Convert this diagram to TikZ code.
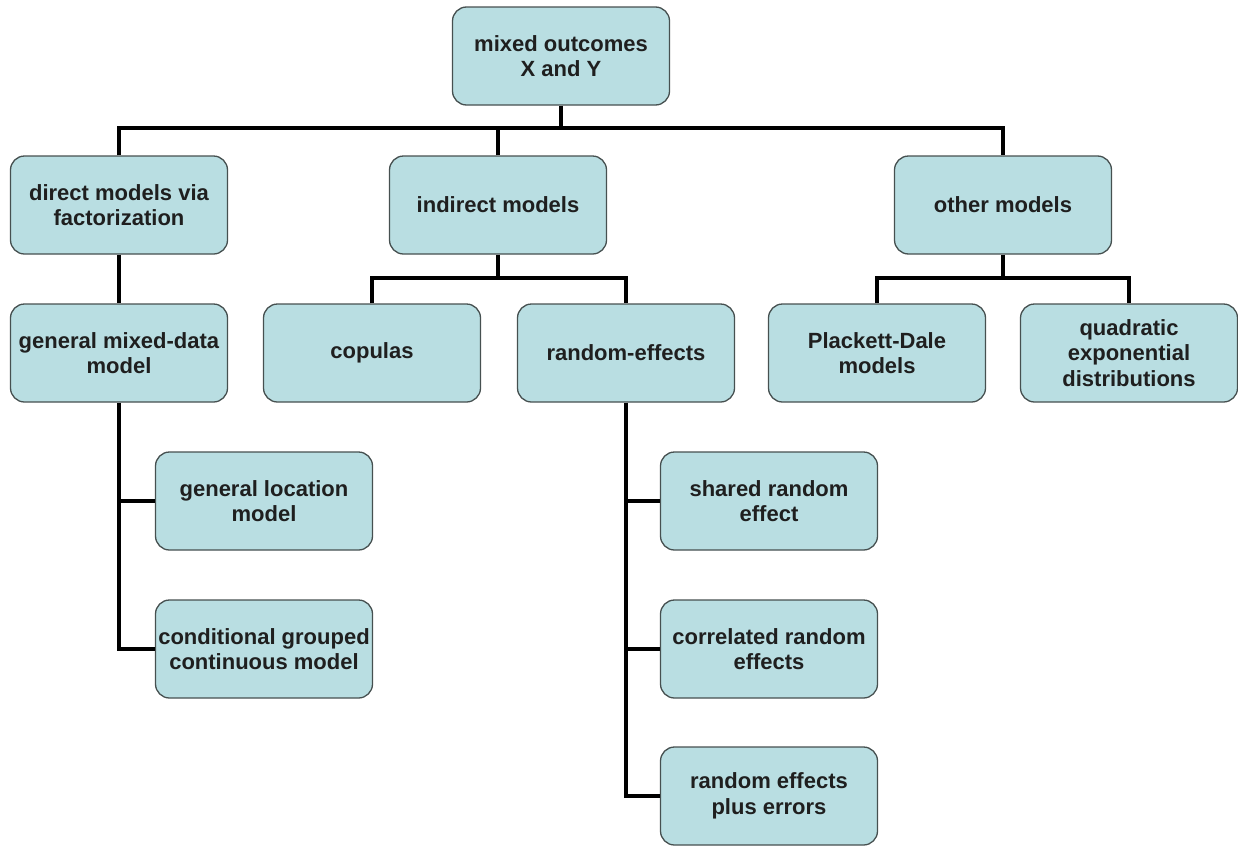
\documentclass[tikz,border=0pt]{standalone}
\usepackage{fontspec}
\setmainfont{Liberation Sans}
\definecolor{boxfill}{RGB}{185,222,226}
\definecolor{boxline}{RGB}{70,80,80}
\begin{document}
\begin{tikzpicture}[x=1pt,y=1pt,
  box/.style={draw=boxline, line width=1.3pt, fill=boxfill, rounded corners=14pt,
    minimum width=217pt, minimum height=98pt, align=center, inner sep=0pt,
    font=\fontsize{22}{25.5}\selectfont\bfseries, text=black!88},
  conn/.style={line width=4pt, black, line join=miter}]
\useasboundingbox (0,0) rectangle (1238,-846);
\node[box] (root) at (561,-56) {mixed outcomes\\X and Y};
\node[box] (direct) at (119,-205) {direct models via\\factorization};
\node[box] (indirect) at (498,-205) {indirect models};
\node[box] (other) at (1003,-205) {other models};
\node[box] (gm) at (119,-353) {general mixed-data\\model};
\node[box] (copulas) at (372,-353) {copulas};
\node[box] (reff) at (626,-353) {random-effects};
\node[box] (pd) at (877,-353) {Plackett-Dale\\models};
\node[box] (quad) at (1129,-353) {quadratic\\exponential\\distributions};
\node[box] (loc) at (264,-501) {general location\\model};
\node[box] (cond) at (264,-649) {conditional grouped\\continuous model};
\node[box] (shared) at (769,-501) {shared random\\effect};
\node[box] (corr) at (769,-649) {correlated random\\effects};
\node[box] (rep) at (769,-796) {random effects\\plus errors};
\coordinate (bus) at (0,-128);
\coordinate (bus2) at (0,-278);
\draw[conn] (root.south) -- (root.south |- bus);
\draw[conn] (direct.north) |- (other.north |- bus) -- (other.north);
\draw[conn] (indirect.north) -- (indirect.north |- bus);
\draw[conn] (direct.south) -- (gm.north);
\draw[conn] (indirect.south) -- (indirect.south |- bus2);
\draw[conn] (copulas.north) |- (reff.north |- bus2) -- (reff.north);
\draw[conn] (other.south) -- (other.south |- bus2);
\draw[conn] (pd.north) |- (quad.north |- bus2) -- (quad.north);
\draw[conn] (gm.south) |- (cond.west);
\draw[conn] (gm.south |- loc.west) -- (loc.west);
\draw[conn] (reff.south) |- (rep.west);
\draw[conn] (reff.south |- shared.west) -- (shared.west);
\draw[conn] (reff.south |- corr.west) -- (corr.west);
\end{tikzpicture}
\end{document}
